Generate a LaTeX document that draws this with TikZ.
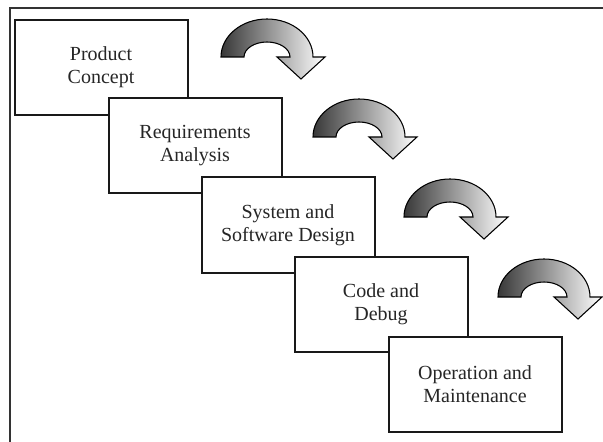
\documentclass[tikz,border=0pt]{standalone}
\usepackage{fontspec}
\setmainfont{Liberation Serif}
\begin{document}
\begin{tikzpicture}[x=0.75pt,y=0.75pt,
  stage/.style={draw=black!90, line width=1.5pt, fill=white,
    minimum width=129.75pt, minimum height=71.25pt, inner sep=0pt,
    align=center, font=\fontsize{15}{17.25}\selectfont, text=black!85},
  frameline/.style={draw=black!80, line width=1.5pt},
  curvarrow/.pic={
    \shadedraw[left color=black!78, right color=white, draw=black, line width=0.8pt, line join=miter]
      (-46,0) arc[start angle=180, end angle=0, x radius=46, y radius=38]
      -- (58,0) -- (34,-22) -- (10,0) -- (23,0)
      arc[start angle=0, end angle=180, x radius=23, y radius=15] -- cycle;
  }]
\useasboundingbox (0,0) rectangle (603,-442);
\draw[frameline] (603,-8.5) -- (9.5,-8.5) -- (9.5,-442);

\node[stage] (concept) at (101,-67.5) {Product\\Concept};
\node[stage] (req) at (195,-146) {Requirements\\Analysis};
\node[stage] (design) at (288,-225) {System and\\Software Design};
\node[stage] (code) at (381,-304.5) {Code and\\Debug};
\node[stage] (ops) at (475,-384) {Operation and\\Maintenance};

\pic at (267,-57) {curvarrow};
\pic at (359,-137) {curvarrow};
\pic at (450,-217) {curvarrow};
\pic at (544,-297) {curvarrow};
\end{tikzpicture}
\end{document}
